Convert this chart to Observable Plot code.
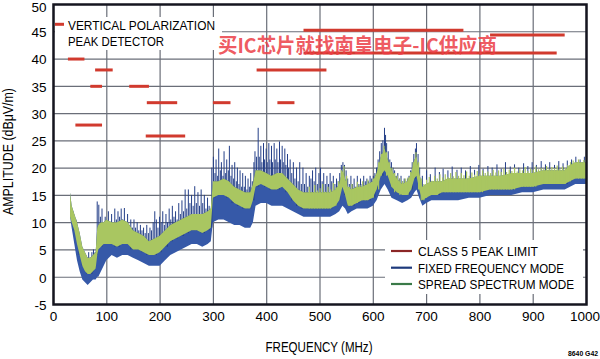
<!DOCTYPE html>
<html><head><meta charset="utf-8">
<script src="https://cdn.jsdelivr.net/npm/d3@7"></script>
<script src="https://cdn.jsdelivr.net/npm/@observablehq/plot@0.6"></script>
<style>
body{margin:0;background:#fff;}
#chart{position:relative;width:600px;height:359px;overflow:hidden;}
</style></head><body><div id="chart"></div>
<script>
// ---- axis ticks ----
const xTicks = [0,100,200,300,400,500,600,700,800,900,1000];
const yTicks = [-5,0,5,10,15,20,25,30,35,40,45,50];

// ---- class 5 peak limit segments: [startMHz, endMHz, level dBuV/m] ----
const limitSegments = [
  [28,59,40],[42,92,27.9],[70,92,35],[79,112,38],[143,180,35],[176,233,32],
  [174,248,25.9],[300,333,32],[382,513,38],[421,453,32],[470,770,45.3],
  [470,945,41.1],[820,960,44.4]
];

// ---- band envelopes: [MHz, fixed-mode low, spread low, spread high] ----
const bandRows = [
 [32,11,11,15.5],[35,9,10,13],[40,6,8.5,11.5],[45,3,6,10],[50,1,4,8],[55,-0.5,2,5.5],
 [60,-1,1,4.5],[65,-1.5,0.5,3.5],[70,-1,0.5,3.5],[75,-0.5,1,4],[80,-0.5,1.5,4.5],[83,0,4,9],
 [85,0,5,9.5],[90,1,5.5,10],[95,2,6,10],[100,3,6,10.5],[110,4,6,10],[120,3.5,5.5,10],
 [130,4,6,10.5],[140,4,6,10],[150,3.5,5,8.5],[160,3,5,8],[170,2.5,4.5,7.5],[180,2,4,6.5],
 [190,2,4,7],[200,2,4.5,7.5],[210,3,5.5,8.5],[220,4,6.5,9.5],[230,4.5,7,10],[240,5,7.5,10.5],
 [250,5.5,8,11],[260,6,8.5,11.5],[270,6,8.5,11.5],[280,5.5,8,11.5],[290,6,8.5,12],[296,6.5,9,12.5],
 [300,10,14.5,17.5],[310,10.5,15,17.5],[320,10.5,15,18],[330,10,14.5,17.5],[340,9.5,13.5,16.5],
 [350,9.5,13,16],[360,9,12.5,15.5],[370,9,12.5,15.5],[375,10,14,17],[380,13,16.5,19.5],
 [390,13.5,17,19.5],[400,13.5,16.5,19],[410,13,16,18.5],[420,13,16,19],[430,13,16.5,19],
 [440,12.5,15.5,18],[450,12,14,17],[460,11.5,13,16],[470,11,12.5,15.5],[480,11,12.5,15.5],
 [490,11,12.5,15.5],[500,11,12.5,15.5],[510,11,12.5,15.5],[520,11,12.5,15.5],[530,11.5,13,16],
 [537,12,14,17],[543,13,16.5,19.5],[548,12.5,15,18],[553,11.5,13,16.5],[560,12,13,16],
 [570,12.5,13.5,16.5],[580,12.5,14,16.5],[590,12.5,14,17],[600,13,14.5,17.5],[607,14,16,19],
 [615,16,18.5,22],[622,17,19.5,23.5],[628,16,18.5,21.5],[635,14.5,16.5,19.5],[645,14,15.5,18],
 [655,13.5,15,17],[665,14,15,17.5],[672,14.5,16,19],[678,15.5,18,21.5],[682,16,18.5,22],
 [687,14.5,16,19],[693,13,14,16.5],[700,13.5,14.5,17],[710,14,15,17.5],[720,14,15,17.5],
 [730,14,15.5,17.5],[740,14,15.5,18],[750,14,15.5,18],[760,14,15.5,18],[780,14.5,15.5,18],
 [800,14.5,15.5,18.5],[820,15,16,18.5],[840,15,16,18.5],[860,15,16,19],[880,15.5,16.5,19],
 [900,15.5,16.5,19],[920,16,17,19.5],[940,16,17,19.5],[960,16,17,19.5],[970,16.5,17.5,20.5],
 [980,17,18,21],[1000,17,18,21]
];

// ---- fixed frequency mode spike tops: [MHz, dBuV/m] ----
const fixedSpikes = [
 [36,12],[39,11],[42,10.5],[45,9],[48,7],[51,6],[54,5],[57,4.5],[60,4],[63,3.5],[66,4.5],[69,3.5],[72,4.5],[75,5],[78,4.5],
 [82,13.8],[85,13.2],[88,11],[91,12.5],[94,9.5],[97,11],[100,10],[103,12],[106,9.5],[109,11.5],[112,10],[115,12.5],[118,10.5],[121,12],[124,11],[127,12.5],[130,10.5],
 [133,12.6],[136,10],[139,11.5],[142,9.5],[145,10.5],[148,9],[151,10.5],[154,9],[157,10],[160,8.5],[163,9.5],[166,8.5],[169,9],[172,8],[175,9.5],[178,8],[181,9],[184,8.5],[187,10],[190,12],[193,10.5],[196,9],[199,11],
 [202,10],[205,12],[208,9.5],[211,11.5],[214,10],[217,12.5],[220,10.5],[223,13],[226,11],[229,12],[232,10.5],[235,13.5],[238,11.5],[241,14],[244,12],[247,16],[250,12.5],
 [253,16],[256,13.5],[259,15],[262,13],[265,16.6],[268,13.5],[271,15.5],[274,13],[277,16],[280,13.5],[283,15],[286,12.5],[289,14.5],[292,13],[297,20],
 [300,22],[303,19],[305,21.5],[308,18.5],[310,23.5],[313,19.5],[315,21],[318,18.5],[320,23],[323,19],[325,21.5],[328,19.5],[330,24],[333,18.5],[335,20.5],[338,18],[340,21],[343,17.5],[345,20],[348,17],[350,19.5],[353,16.5],[355,19],[358,16.5],[360,18.5],[363,16],[365,18],[368,16.5],[370,19],[373,17.5],
 [376,21],[378,23],[381,22],[384,27.3],[386,22],[389,24],[391,21],[394,24.5],[396,21.5],[399,23.5],[401,21],[404,24.5],[406,21.5],[409,24],[411,21],[414,24.5],[416,21.5],[419,23.5],[421,21],[424,24.8],[426,21.5],[429,24],[431,21],[434,23.5],[436,20.5],[439,22.5],[441,20],[444,21.5],
 [447,19],[450,21],[453,18],[456,20],[459,17.5],[462,21],[465,17],[468,20],[471,17],[474,19],[477,16.5],[480,18.5],
 [483,18],[486,19.5],[489,17.5],[492,20],[495,17],[498,19],[501,20],[504,17.5],[507,19],[510,17],[513,18.5],[516,17],[519,19],[522,17.5],[525,18.5],[528,17],[531,18],[534,17.5],[537,19],
 [540,20.5],[543,21],[546,20.5],[549,19.5],[552,18],
 [555,17],[558,18.5],[561,17],[564,18],[567,16.5],[570,18.5],[573,17],[576,18],[579,17],[582,18.5],[585,17.5],[588,18],[591,17.5],[594,18.5],[597,18],[600,18.5],[603,19],
 [606,20],[609,21.5],[612,23],[615,24.5],[618,25],[621,27.3],[623,26],[625,24.5],[628,23],[631,21.5],[634,21],[637,20],
 [640,19.5],[643,18.5],[646,19],[649,18],[652,18.5],[655,17.5],[658,18],[661,17.5],[664,18],[667,18.5],[670,19.5],
 [673,21],[676,22.5],[679,23.5],[681,24.5],[684,22.5],[687,20],
 [692,18.5],[700,19.5],[707,18.8],[716,20],[724,19.2],[731,19.8],[740,19.5],[748,20.2],[757,19.6],[765,20],[773,19.5],[782,20.3],[790,19.6],[798,20.5],
 [806,19.8],[815,20.3],[823,20],[832,20.6],[840,19.8],[848,21],[857,20.2],[865,20.6],[873,20],[882,20.8],[890,20.3],[898,21],
 [906,20.5],[915,21.2],[923,20.6],[931,21],[940,20.5],[948,21.2],[956,20.8],[964,21.3],[972,21.5],[980,22],[988,21.5],[996,22]
];

// ---- spread spectrum mode ragged tops: [MHz, dBuV/m] ----
const spreadSpikes = [
 [480,16.5],[485,15.5],[490,16.8],[495,15.8],[500,16.2],[505,17],[510,15.6],[515,16.5],[520,16],[525,17.2],[530,16.4],[535,17.5],
 [540,19.5],[545,20.3],[550,18.5],[555,16.5],[560,17],[565,16.2],[570,17.4],[575,16.8],[580,17.5],[585,16.8],[590,17.8],[595,17.2],
 [600,18],[605,18.5],[610,21],[615,22.5],[620,24],[625,22.8],[630,21],[635,20],[640,19],[645,18.5],[650,18],[655,17.5],[660,18],
 [665,18.2],[670,19.2],[675,21],[680,22.8],[685,21],[690,18],[695,17],[700,17.8],[705,18.3],[710,17.6],[715,18.5],[720,18],
 [725,18.8],[730,18.2],[735,18.8],[740,18.3],[745,19],[750,18.4],[755,19.2],[760,18.5],[765,19],[770,18.6],[775,19.3],[780,18.5],
 [785,19.1],[790,18.7],[795,19.4],[800,18.8],[805,19.5],[810,19],[815,19.3],[820,19],[825,19.6],[830,19.1],[835,19.5],[840,19.2],
 [845,19.8],[850,19.2],[855,19.6],[860,19.4],[865,20],[870,19.3],[875,19.7],[880,19.5],[885,20.1],[890,19.4],[895,19.8],[900,19.6],
 [905,20.2],[910,19.7],[915,20],[920,19.8],[925,20.3],[930,19.8],[935,20.1],[940,19.9],[945,20.4],[950,19.8],[955,20.2],[960,20],
 [965,20.5],[970,21],[975,21.3],[980,21],[985,21.5],[990,21],[995,21.4],[1000,21.2]
];

// ---- text ----
const legendTopLines = ["VERTICAL POLARIZATION","PEAK DETECTOR"];
const legendSeries = ["CLASS 5 PEAK LIMIT","FIXED FREQUENCY MODE","SPREAD SPECTRUM MODE"];
const legendColors = ["#8b2626","#1e3a7c","#3a7a48"];
const xTitle = "FREQUENCY (MHz)";
const yTitle = "AMPLITUDE (dBμV/m)";
const watermark = "买IC芯片就找南皇电子-IC供应商";
const figId = "8640 G42";

// ---- derived tables ----
const bands = bandRows.map(r => ({f:r[0], fixedLow:r[1], spreadLow:r[2], spreadHigh:r[3]}));
const limits = limitSegments.map(r => ({a:r[0], b:r[1], v:r[2]}));
const bis = d3.bisector(d => d.f).center;
const nearest = f => bands[bis(bands, f)];
const fixedRules = fixedSpikes.map(([f,t]) => ({f, top:t, base: nearest(f).spreadLow}));
const spreadRules = spreadSpikes.map(([f,t]) => ({f, top:t, base: nearest(f).spreadLow}));
const yTicksTop = yTicks.filter(d => d === 50);
const yTicksRest = yTicks.filter(d => d !== 50);
const xTicksLast = xTicks.filter(d => d === 1000);
const xTicksRest = xTicks.filter(d => d !== 1000);

const BLUE_FILL = "#3659a8", BLUE_SPIKE = "#243f88", GREEN = "#a9c661", RED = "#d13a2e";
const GRID = "#6a6e78", FRAME = "#15151f";
const FONT = "'Liberation Sans', Arial, Helvetica, sans-serif";

const chart = Plot.plot({
  width: 600, height: 359,
  marginLeft: 53, marginRight: 14, marginTop: 4, marginBottom: 55,
  x: {domain: [0, 1000], axis: null},
  y: {domain: [-5, 50], axis: null},
  marks: [
    Plot.ruleX(xTicks, {x: d => d, stroke: GRID, strokeWidth: 1.2}),
    Plot.ruleY(yTicks, {y: d => d, stroke: GRID, strokeWidth: 1.2}),
    Plot.areaY(bands, {x: "f", y1: "fixedLow", y2: "spreadHigh", fill: BLUE_FILL}),
    Plot.ruleX(fixedRules, {x: "f", y1: "base", y2: "top", stroke: BLUE_SPIKE, strokeWidth: 1}),
    Plot.areaY(bands, {x: "f", y1: "spreadLow", y2: "spreadHigh", fill: GREEN}),
    Plot.ruleX(spreadRules, {x: "f", y1: "base", y2: "top", stroke: GREEN, strokeWidth: 1.2}),
    Plot.ruleY(limits, {x1: "a", x2: "b", y: "v", stroke: RED, strokeWidth: 3}),
    Plot.frame({stroke: FRAME, strokeWidth: 2.5}),
    Plot.text(xTicksRest, {x: d => d, frameAnchor: "bottom", dy: 16, text: d => String(d), fontSize: 13.5, fill: "black"}),
    Plot.text(xTicksLast, {x: d => d, frameAnchor: "bottom", dy: 16, dx: -1.5, text: d => String(d), fontSize: 13.5, fill: "black"}),
    Plot.text(yTicksRest, {y: d => d, frameAnchor: "left", dx: -7, dy: 1, textAnchor: "end", text: d => String(d), fontSize: 13.5, fill: "black"}),
    Plot.text(yTicksTop, {y: d => d, frameAnchor: "left", dx: -7, dy: 3.5, textAnchor: "end", text: d => String(d), fontSize: 13.5, fill: "black"})
  ]
});
chart.setAttribute("font-family", FONT);
document.getElementById("chart").appendChild(chart);

const svg = d3.select(chart);

// top-left legend
const g1 = svg.append("g").attr("text-anchor", "start").attr("fill", "black");
g1.append("rect").attr("x", 55).attr("y", 17).attr("width", 167).attr("height", 33).attr("fill", "white");
g1.append("line").attr("x1", 55).attr("x2", 64).attr("y1", 24.3).attr("y2", 24.3).attr("stroke", RED).attr("stroke-width", 3);
g1.append("text").attr("x", 68).attr("y", 30).attr("font-size", 13).attr("font-family", FONT)
  .attr("textLength", 147).attr("lengthAdjust", "spacingAndGlyphs").text(legendTopLines[0]);
g1.append("text").attr("x", 68).attr("y", 46).attr("font-size", 13).attr("font-family", FONT)
  .attr("textLength", 96).attr("lengthAdjust", "spacingAndGlyphs").text(legendTopLines[1]);

// bottom-right legend
const g2 = svg.append("g").attr("text-anchor", "start").attr("fill", "black");
g2.append("rect").attr("x", 385).attr("y", 240).attr("width", 198).attr("height", 54).attr("fill", "white");
const rowY = [251, 267.7, 284];
const rowW = [120, 146, 156];
legendSeries.forEach((s, i) => {
  g2.append("line").attr("x1", 391).attr("x2", 412).attr("y1", rowY[i]).attr("y2", rowY[i])
    .attr("stroke", legendColors[i]).attr("stroke-width", 2.2);
  g2.append("text").attr("x", 418).attr("y", rowY[i] + 5).attr("font-size", 13.5).attr("font-family", FONT)
    .attr("textLength", rowW[i]).attr("lengthAdjust", "spacingAndGlyphs").text(s);
});

// axis titles
svg.append("text").attr("x", 319).attr("y", 351.5).attr("text-anchor", "middle").attr("font-size", 14).attr("fill", "black")
  .attr("font-family", FONT).attr("textLength", 107).attr("lengthAdjust", "spacingAndGlyphs").text(xTitle);
svg.append("text").attr("transform", "translate(13,151.5) rotate(-90)").attr("text-anchor", "middle").attr("fill", "black")
  .attr("font-size", 14).attr("font-family", FONT).attr("textLength", 127).attr("lengthAdjust", "spacingAndGlyphs").text(yTitle);

// watermark
svg.append("text").attr("x", 218).attr("y", 52.5).attr("text-anchor", "start").attr("font-size", 20).attr("font-weight", "bold")
  .attr("font-family", "'Noto Sans CJK SC', sans-serif").attr("fill", "#ec3d45").attr("fill-opacity", 0.85)
  .attr("textLength", 279).attr("lengthAdjust", "spacingAndGlyphs").text(watermark);

// figure id
svg.append("text").attr("x", 598).attr("y", 356).attr("text-anchor", "end").attr("font-size", 7).attr("fill", "black")
  .attr("font-weight", "bold").attr("font-family", FONT).attr("textLength", 30).attr("lengthAdjust", "spacingAndGlyphs").text(figId);
</script></body></html>
